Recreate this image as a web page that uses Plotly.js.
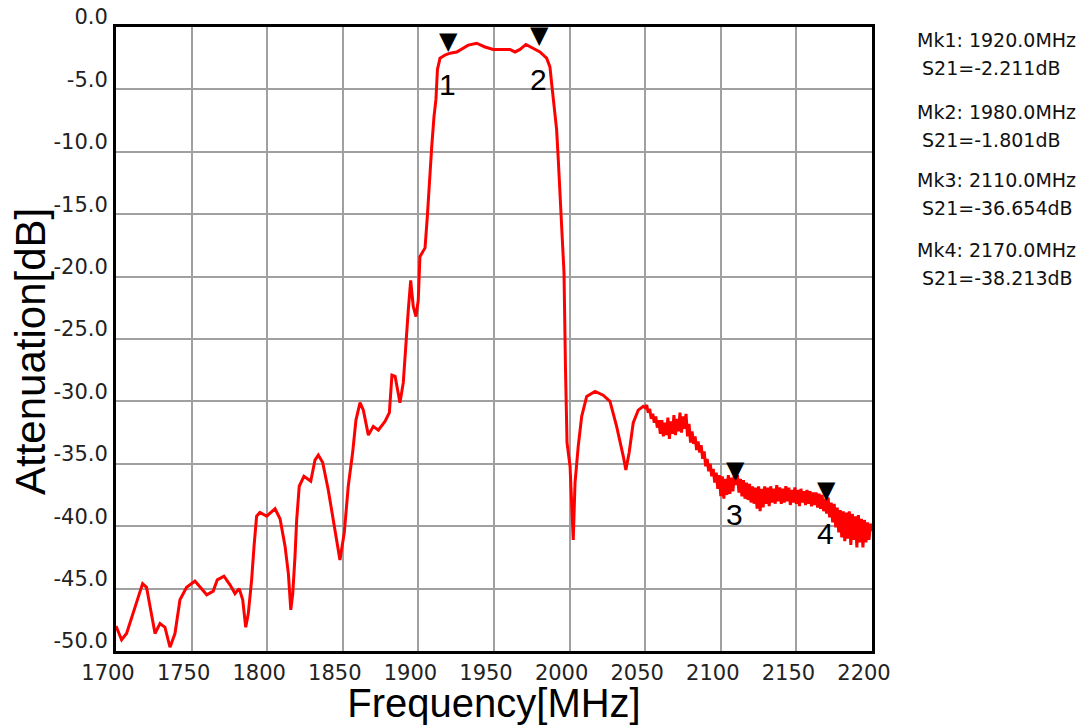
<!DOCTYPE html>
<html>
<head>
<meta charset="utf-8">
<script src="https://cdn.plot.ly/plotly-3.0.1.min.js"></script>
<style>
  html, body { margin: 0; padding: 0; background: #fff; }
  #chart { width: 1087px; height: 725px; }
</style>
</head>
<body>
<div id="chart"></div>
<script>
// ---- Data (frequency in MHz, S21 in dB) ----
const freqMain = [
  1700, 1703.7, 1707, 1710.4, 1713.7, 1717.6, 1720.2, 1722.5, 1725.8, 1729.1,
  1732.4, 1735.7, 1739, 1742.3, 1746.7, 1752.2, 1755.6, 1760, 1764.3, 1767,
  1771.4, 1775.4, 1778.7, 1781.5, 1783.8, 1785.8, 1787.5, 1789.7, 1791.3, 1793,
  1795.2, 1799.7, 1805.2, 1808.5, 1811.8, 1814, 1815.6, 1816.9, 1818.4, 1819.5,
  1821.2, 1824.3, 1828.8, 1831.6, 1833.8, 1836.7, 1840.4, 1843.7, 1846.4, 1848.1,
  1851, 1853.6, 1856.5, 1858.7, 1861.4, 1863.6, 1866.9, 1870.2, 1873.5, 1877.9,
  1880.8, 1882.5, 1884.6, 1887.8, 1890, 1891.8, 1893.3, 1894.9, 1896.6, 1898.4,
  1899.9, 1901, 1904.4, 1905.9, 1907.2, 1908.8, 1910.3, 1911.6, 1912.6, 1914.3,
  1917.6, 1920.9, 1925.3, 1929.7, 1933, 1938.5, 1944, 1949.5, 1956.1, 1960.5,
  1963.9, 1967.2, 1971.1, 1976, 1980.4, 1984.8, 1987, 1988.1, 1989.5, 1991.4,
  1992.5, 1993.6, 1994.7, 1996.3, 1997.3, 1998.3, 2000.3, 2002.4, 2003.6, 2005.7,
  2008, 2011.3, 2016.8, 2022.2, 2026.7, 2031.1, 2035.5, 2037.2, 2039.4, 2042.1,
  2045.4, 2048.7, 2050
];
const s21Main = [
  -48.0, -49.1, -48.6, -47.3, -46.2, -44.6, -44.9, -46.4, -48.6, -47.8,
  -48.1, -49.7, -48.6, -45.9, -44.9, -44.4, -44.9, -45.5, -45.2, -44.3,
  -44.0, -44.7, -45.4, -45.0, -45.9, -48.1, -47.0, -44.3, -41.6, -39.2,
  -38.9, -39.2, -38.6, -39.4, -41.6, -43.8, -46.7, -45.4, -42.4, -39.5,
  -36.8, -36.0, -36.4, -34.7, -34.3, -34.9, -37.1, -39.5, -41.6, -42.7,
  -40.5, -36.8, -34.1, -31.5, -30.1, -30.7, -32.7, -32.0, -32.3, -31.6,
  -30.9, -27.9, -28.0, -30.1, -28.5, -25.1, -22.7, -20.3, -22.4, -23.2,
  -21.9, -18.4, -17.7, -15.2, -12.2, -9.6, -7.2, -5.8, -3.4, -2.5,
  -2.25, -2.1, -2.0, -1.7, -1.45, -1.3, -1.6, -1.8, -1.8, -1.8,
  -2.0, -1.8, -1.4, -1.7, -2.0, -2.5, -3.2, -4.5, -6.0, -8.2,
  -10.6, -13.0, -15.7, -19.7, -27.5, -33.3, -35.2, -41.1, -36.5, -33.6,
  -31.2, -29.6, -29.2, -29.5, -30.0, -32.0, -34.4, -35.5, -34.1, -31.7,
  -30.7, -30.4, -30.5
];
// noisy upper stop band, one reading per MHz
const freqNoise = [
  2051, 2052, 2053, 2054, 2055, 2056, 2057, 2058, 2059, 2060,
  2061, 2062, 2063, 2064, 2065, 2066, 2067, 2068, 2069, 2070,
  2071, 2072, 2073, 2074, 2075, 2076, 2077, 2078, 2079, 2080,
  2081, 2082, 2083, 2084, 2085, 2086, 2087, 2088, 2089, 2090,
  2091, 2092, 2093, 2094, 2095, 2096, 2097, 2098, 2099, 2100,
  2101, 2102, 2103, 2104, 2105, 2106, 2107, 2108, 2109, 2110,
  2111, 2112, 2113, 2114, 2115, 2116, 2117, 2118, 2119, 2120,
  2121, 2122, 2123, 2124, 2125, 2126, 2127, 2128, 2129, 2130,
  2131, 2132, 2133, 2134, 2135, 2136, 2137, 2138, 2139, 2140,
  2141, 2142, 2143, 2144, 2145, 2146, 2147, 2148, 2149, 2150,
  2151, 2152, 2153, 2154, 2155, 2156, 2157, 2158, 2159, 2160,
  2161, 2162, 2163, 2164, 2165, 2166, 2167, 2168, 2169, 2170,
  2171, 2172, 2173, 2174, 2175, 2176, 2177, 2178, 2179, 2180,
  2181, 2182, 2183, 2184, 2185, 2186, 2187, 2188, 2189, 2190,
  2191, 2192, 2193, 2194, 2195, 2196, 2197, 2198, 2199, 2200
];
const s21Noise = [
  -30.3, -30.9, -30.6, -31.4, -31.0, -31.7, -31.2, -32.1, -31.5, -32.6,
  -31.5, -32.8, -31.7, -32.7, -31.3, -33.0, -31.6, -32.6, -31.1, -32.7,
  -31.4, -32.4, -30.9, -32.5, -31.2, -32.2, -31.0, -32.8, -31.8, -33.3,
  -32.4, -33.4, -32.8, -33.9, -33.2, -34.1, -33.5, -34.6, -34.0, -35.2,
  -34.6, -35.6, -35.0, -36.0, -35.4, -36.5, -35.7, -37.0, -35.9, -37.6,
  -36.0, -37.8, -36.2, -37.5, -35.9, -37.4, -36.1, -37.2, -35.8, -36.7,
  -35.9, -37.3, -36.2, -37.6, -36.3, -37.8, -36.5, -37.9, -36.6, -38.1,
  -36.8, -38.2, -36.9, -38.6, -36.8, -38.8, -37.0, -38.5, -36.8, -38.2,
  -36.9, -38.4, -36.8, -38.1, -37.0, -38.2, -36.7, -38.0, -36.9, -38.2,
  -37.0, -38.1, -36.8, -38.0, -36.9, -38.3, -37.1, -38.1, -36.9, -38.2,
  -37.1, -38.4, -37.0, -38.1, -37.2, -38.3, -37.1, -38.2, -37.2, -38.4,
  -37.3, -38.3, -37.3, -38.5, -37.4, -38.6, -37.5, -38.8, -37.8, -39.0,
  -37.7, -39.3, -38.1, -39.7, -38.2, -40.1, -38.5, -40.5, -38.7, -40.9,
  -38.8, -41.2, -38.9, -41.0, -38.8, -41.5, -39.0, -41.1, -39.2, -41.7,
  -39.1, -41.3, -39.4, -41.7, -39.5, -41.3, -39.7, -41.1, -39.8, -40.4
];
// markers
const markerNames = ["1", "2", "3", "4"];
const markerFreq = [1920.0, 1980.0, 2110.0, 2170.0];
const markerS21 = [-2.211, -1.801, -36.654, -38.213];
const xTicks = [1700, 1750, 1800, 1850, 1900, 1950, 2000, 2050, 2100, 2150, 2200];
const yTicks = [0, -5, -10, -15, -20, -25, -30, -35, -40, -45, -50];

// ---- Build ----
const freqAll = freqMain.concat(freqNoise);
const s21All = s21Main.concat(s21Noise);

const traces = [{
  x: freqAll, y: s21All, type: "scatter", mode: "lines",
  line: { color: "#ff0000", width: 3 },
  hoverinfo: "skip", showlegend: false
}];

const plotTop = 27, plotBottom = 651, plotLeft = 116, plotRight = 872;
const annotations = [];
markerFreq.forEach((f, i) => {
  annotations.push({
    x: f, y: markerS21[i], xref: "x", yref: "y", showarrow: false,
    text: "\u25BC", font: { family: "DejaVu Sans", size: 24, color: "#000" },
    yshift: 14, xanchor: "center", yanchor: "middle"
  });
  annotations.push({
    x: f, y: markerS21[i], xref: "x", yref: "y", showarrow: false,
    text: markerNames[i], font: { family: "Liberation Sans", size: 30, color: "#000" },
    yshift: -30, xshift: -1, xanchor: "center", yanchor: "middle"
  });
});

// y-axis title placed as rotated text left of the tick labels
annotations.push({
  xref: "paper", yref: "paper",
  x: (31 - plotLeft) / (plotRight - plotLeft),
  y: (plotBottom - 352) / (plotBottom - plotTop),
  xanchor: "center", yanchor: "middle", showarrow: false, textangle: -90,
  text: "Attenuation[dB]", font: { family: "Liberation Sans", size: 42, color: "#000" }
});

// marker read-out text at right
const readout = [];
markerFreq.forEach((f, i) => {
  readout.push("Mk" + (i + 1) + ": " + f.toFixed(1) + "MHz");
  readout.push("S21=" + markerS21[i].toFixed(3) + "dB");
});
const readY = [40, 68, 112, 140, 180, 208, 250, 278];
readout.forEach((t, k) => {
  const px = (k % 2 === 0) ? 915 : 920;
  annotations.push({
    xref: "paper", yref: "paper",
    x: (px - plotLeft) / (plotRight - plotLeft),
    y: (plotBottom - readY[k]) / (plotBottom - plotTop),
    xanchor: "left", yanchor: "middle", showarrow: false,
    text: t, font: { family: "DejaVu Sans", size: 19, color: "#111" }
  });
});

const axisCommon = {
  showgrid: true, gridcolor: "#a0a0a0", gridwidth: 2,
  showline: true, linecolor: "#000", linewidth: 3, mirror: true,
  zeroline: false, ticks: "", fixedrange: true,
  tickfont: { family: "DejaVu Sans", size: 21, color: "#222" }
};

const layout = {
  width: 1087, height: 725,
  margin: { l: plotLeft, r: 1087 - plotRight, t: plotTop, b: 725 - plotBottom, pad: 0 },
  paper_bgcolor: "#fff", plot_bgcolor: "#fff",
  showlegend: false,
  xaxis: Object.assign({}, axisCommon, {
    range: [1700, 2200], tickmode: "array", tickvals: xTicks,
    ticktext: xTicks.map(String),
    ticklabelshift: -8, ticklabelstandoff: 1,
    title: { text: "Frequency[MHz]", font: { family: "Liberation Sans", size: 40, color: "#000" }, standoff: 2 }
  }),
  yaxis: Object.assign({}, axisCommon, {
    range: [-50, 0], tickmode: "array", tickvals: yTicks,
    ticktext: yTicks.map(v => v.toFixed(1)),
    ticklabelshift: -10, ticklabelstandoff: 1
  }),
  annotations: annotations
};

Plotly.newPlot("chart", traces, layout, { staticPlot: true, displayModeBar: false });
</script>
</body>
</html>
